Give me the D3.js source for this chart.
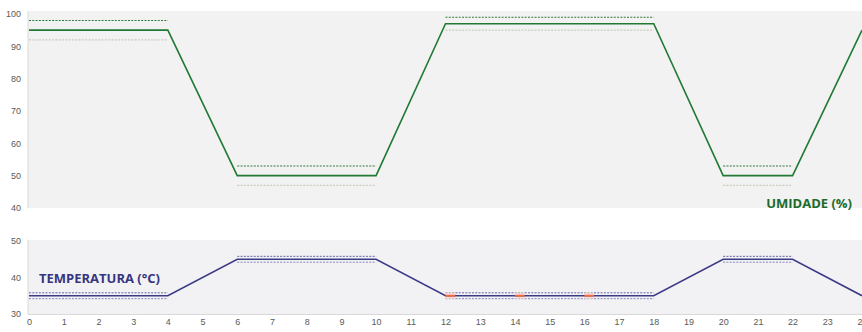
<!DOCTYPE html>
<html>
<head>
<meta charset="utf-8">
<script src="https://cdn.jsdelivr.net/npm/d3@7"></script>
<style>
  html, body { margin: 0; padding: 0; background: #ffffff; }
  svg { display: block; font-family: "Open Sans", "Liberation Sans", sans-serif; }
</style>
</head>
<body>
<svg id="chart" width="862" height="332"></svg>
<script>
// Hourly profile (0–24 h) of humidity and temperature set points with limit bands
const hours = [0, 4, 6, 10, 12, 18, 20, 22, 24];
const humidity = [95, 95, 50, 50, 97, 97, 50, 50, 95];
const temperature = [35, 35, 45, 45, 35, 35, 45, 45, 35];

// Plateau bands (start hour, end hour, upper limit, lower limit)
const bandStart = [0, 6, 12, 20];
const bandEnd = [4, 10, 18, 22];
const humHigh = [98, 53, 99, 53];
const humLow = [92, 47, 95, 47];
const tempHigh = [35.8, 45.8, 35.8, 45.8];
const tempLow = [34.2, 44.2, 34.2, 44.2];

// Short alarm marks on the temperature line
const alarmStart = [12, 14, 16];
const alarmEnd = [12.28, 14.28, 16.28];

const xTicks = d3.range(0, 25);
const humTicks = [40, 50, 60, 70, 80, 90, 100];
const tempTicks = [30, 40, 50];

const svg = d3.select("#chart");
const x = d3.scaleLinear().domain([0, 24]).range([29, 862]);
const yH = d3.scaleLinear().domain([40, 100]).range([208, 14]);
const yT = d3.scaleLinear().domain([30, 50]).range([314, 241]);

const green = "#217a33";
const navy = "#3b3a86";

// plot backgrounds
svg.append("rect").attr("x", 28).attr("y", 11).attr("width", 834).attr("height", 197).attr("fill", "#f2f2f2");
svg.append("rect").attr("x", 28).attr("y", 240).attr("width", 834).attr("height", 74).attr("fill", "#f2f2f4");
svg.append("line").attr("x1", 28).attr("x2", 28).attr("y1", 11).attr("y2", 208).attr("stroke", "#d9d9d9");
svg.append("line").attr("x1", 28).attr("x2", 28).attr("y1", 240).attr("y2", 314).attr("stroke", "#d9d9d9");
svg.append("line").attr("x1", 28).attr("x2", 862).attr("y1", 314.5).attr("y2", 314.5).attr("stroke", "#d9d9d9");

// axes
function leftAxis(scale, ticks) {
  const g = svg.append("g").attr("transform", "translate(21,0)")
    .call(d3.axisLeft(scale).tickValues(ticks).tickSize(0).tickPadding(0));
  g.select(".domain").remove();
  g.selectAll("text").attr("fill", "#595959").style("font-size", "9px");
}
leftAxis(yH, humTicks);
leftAxis(yT, tempTicks);

const xa = svg.append("g").attr("transform", "translate(0,319)")
  .call(d3.axisBottom(x).tickValues(xTicks).tickFormat(d3.format("d")).tickSize(0).tickPadding(0));
xa.select(".domain").remove();
xa.selectAll("text").attr("fill", "#595959").style("font-size", "9px");

// band lines
function bands(scale, vals, color, dash, width) {
  svg.append("g").selectAll("line").data(vals).join("line")
    .attr("x1", (d, i) => x(bandStart[i]))
    .attr("x2", (d, i) => x(bandEnd[i]))
    .attr("y1", d => scale(d)).attr("y2", d => scale(d))
    .attr("stroke", color).attr("stroke-width", width)
    .attr("stroke-dasharray", dash);
}
bands(yH, humHigh, "#2f7a3a", "2,1.3", 1.1);
bands(yH, humLow, "#c5cfbe", "2,1.3", 1.1);
bands(yT, tempHigh, "#5552a0", "2,1.3", 0.9);
bands(yT, tempLow, "#7c79b8", "2,1.3", 0.9);

// main profiles
const line = (scale, vals) => d3.line().x((d, i) => x(hours[i])).y(d => scale(d))(vals);
svg.append("path").attr("d", line(yH, humidity)).attr("fill", "none")
  .attr("stroke", green).attr("stroke-width", 1.6);

// alarm marks (soft halo, then the line, then the mark)
svg.append("g").selectAll("rect").data(alarmStart).join("rect")
  .attr("x", (d, i) => x(d)).attr("width", (d, i) => x(alarmEnd[i]) - x(d))
  .attr("y", yT(35) - 3.5).attr("height", 7)
  .attr("fill", "#fbd9cc").attr("opacity", 0.6);

svg.append("path").attr("d", line(yT, temperature)).attr("fill", "none")
  .attr("stroke", navy).attr("stroke-width", 1.6);

svg.append("g").selectAll("line").data(alarmStart).join("line")
  .attr("x1", d => x(d)).attr("x2", (d, i) => x(alarmEnd[i]))
  .attr("y1", yT(35)).attr("y2", yT(35))
  .attr("stroke", "#f26b45").attr("stroke-width", 2);

// series titles
svg.append("text").attr("x", 852).attr("y", 208).attr("text-anchor", "end")
  .attr("fill", "#1d6b2c").style("font-size", "13px").style("font-weight", "bold")
  .text("UMIDADE (%)");
svg.append("text").attr("x", 39).attr("y", 283)
  .attr("fill", "#37357f").style("font-size", "13px").style("font-weight", "bold")
  .text("TEMPERATURA (°C)");
</script>
</body>
</html>
